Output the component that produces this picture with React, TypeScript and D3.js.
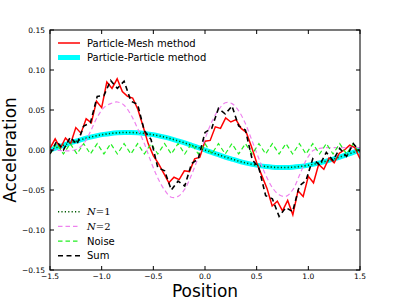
import React from 'react';
import * as d3 from 'd3';

// Particle-Mesh samples (step 0.05)
const pmX = [
  -1.5, -1.45, -1.4, -1.35, -1.3, -1.25, -1.2, -1.15, -1.1, -1.05,
  -1.0, -0.95, -0.9, -0.85, -0.8, -0.75, -0.7, -0.65, -0.6, -0.55,
  -0.5, -0.45, -0.4, -0.35, -0.3, -0.25, -0.2, -0.15, -0.1, -0.05,
  0.0, 0.05, 0.1, 0.15, 0.2, 0.25, 0.3, 0.35, 0.4, 0.45,
  0.5, 0.55, 0.6, 0.65, 0.7, 0.75, 0.8, 0.85, 0.9, 0.95,
  1.0, 1.05, 1.1, 1.15, 1.2, 1.25, 1.3, 1.35, 1.4, 1.45, 1.5,
];
const pmAccel = [
  0.002, 0.014, 0.002, 0.015, 0.008, 0.028, 0.021, 0.039, 0.034, 0.061,
  0.053, 0.085, 0.077, 0.089, 0.073, 0.067, 0.065, 0.051, 0.030, 0.008,
  -0.007, -0.017, -0.029, -0.041, -0.034, -0.037, -0.026, -0.027, -0.011, -0.009,
  0.011, 0.012, 0.029, 0.027, 0.040, 0.035, 0.038, 0.027, 0.022, 0.004,
  -0.016, -0.032, -0.048, -0.070, -0.064, -0.076, -0.063, -0.081, -0.051, -0.058,
  -0.033, -0.041, -0.018, -0.024, -0.010, -0.016, -0.004, 0.000, 0.006, 0.003, -0.011,
];

// mode grid (46 cells)
const gridX = [
  -1.5, -1.435, -1.37, -1.304, -1.239, -1.174, -1.109, -1.043, -0.978, -0.913,
  -0.848, -0.783, -0.717, -0.652, -0.587, -0.522, -0.457, -0.391, -0.326, -0.261,
  -0.196, -0.13, -0.065, 0.0, 0.065, 0.13, 0.196, 0.261, 0.326, 0.391,
  0.457, 0.522, 0.587, 0.652, 0.717, 0.783, 0.848, 0.913, 0.978, 1.043,
  1.109, 1.174, 1.239, 1.304, 1.37, 1.435, 1.5,
];
const ppAccel = [
  0, 0.003, 0.0059, 0.0088, 0.0114, 0.0139, 0.0161, 0.018, 0.0195, 0.0207,
  0.0215, 0.0219, 0.0219, 0.0215, 0.0207, 0.0195, 0.018, 0.0161, 0.0139, 0.0114,
  0.0088, 0.0059, 0.003, 0, -0.003, -0.0059, -0.0088, -0.0114, -0.0139, -0.0161,
  -0.018, -0.0195, -0.0207, -0.0215, -0.0219, -0.0219, -0.0215, -0.0207, -0.0195, -0.018,
  -0.0161, -0.0139, -0.0114, -0.0088, -0.0059, -0.003, 0,
];
const n1Accel = [
  0, 0.003, 0.0059, 0.0088, 0.0114, 0.0139, 0.0161, 0.018, 0.0195, 0.0207,
  0.0215, 0.0219, 0.0219, 0.0215, 0.0207, 0.0195, 0.018, 0.0161, 0.0139, 0.0114,
  0.0088, 0.0059, 0.003, 0, -0.003, -0.0059, -0.0088, -0.0114, -0.0139, -0.0161,
  -0.018, -0.0195, -0.0207, -0.0215, -0.0219, -0.0219, -0.0215, -0.0207, -0.0195, -0.018,
  -0.0161, -0.0139, -0.0114, -0.0088, -0.0059, -0.003, 0,
];
const n2Accel = [
  0.0, 0.0, -0.001, -0.001, 0.001, 0.008, 0.023, 0.041, 0.053, 0.058,
  0.06, 0.056, 0.044, 0.027, 0.008, -0.015, -0.035, -0.05, -0.059, -0.058,
  -0.049, -0.031, -0.009, 0.014, 0.035, 0.05, 0.059, 0.058, 0.049, 0.033,
  0.011, -0.011, -0.031, -0.047, -0.056, -0.058, -0.05, -0.032, -0.013, -0.001,
  0.002, 0.003, 0.003, 0.003, 0.003, 0.003, 0.003,
];
const noiseAccel = [
  -0.005, 0.008, -0.005, 0.008, -0.005, 0.008, -0.005, 0.008, -0.005, 0.008,
  -0.005, 0.008, -0.005, 0.008, -0.005, 0.008, -0.005, 0.008, -0.005, 0.008,
  -0.005, 0.008, -0.005, 0.008, -0.005, 0.008, -0.005, 0.008, -0.005, 0.008,
  -0.005, 0.008, -0.005, 0.008, -0.005, 0.008, -0.005, 0.008, -0.005, 0.008,
  -0.005, 0.008, -0.005, 0.008, -0.005, 0.008, -0.005,
];
const sumAccel = [
  -0.005, 0.011, 0.0, 0.016, 0.007, 0.03, 0.034, 0.067, 0.068, 0.087,
  0.077, 0.086, 0.061, 0.057, 0.024, 0.013, -0.022, -0.026, -0.05, -0.039,
  -0.045, -0.017, -0.011, 0.022, 0.027, 0.052, 0.045, 0.055, 0.03, 0.025,
  -0.012, -0.023, -0.057, -0.061, -0.083, -0.072, -0.077, -0.045, -0.038, -0.011,
  -0.019, -0.003, -0.013, 0.002, -0.008, 0.008, -0.002,
];

const xTicks = [-1.5, -1.0, -0.5, 0.0, 0.5, 1.0, 1.5];
const yTicks = [-0.15, -0.1, -0.05, 0.0, 0.05, 0.1, 0.15];

const topLegend = ['Particle-Mesh method', 'Particle-Particle method'];
const bottomLegend = ['N=1', 'N=2', 'Noise', 'Sum'];

const W = 400;
const H = 300;
const left = 50;
const right = 360;
const top = 30;
const bottom = 270;

const font = '"DejaVu Sans", sans-serif';

export default function App() {
  const x = d3.scaleLinear().domain([-1.5, 1.5]).range([left, right]);
  const y = d3.scaleLinear().domain([-0.15, 0.15]).range([bottom, top]);

  const line = (xs: number[], ys: number[], curve = d3.curveLinear) =>
    d3
      .line<number>()
      .x((d, i) => x(xs[i]))
      .y((d) => y(d))
      .curve(curve)(ys) as string;

  const fmtY = d3.format('.2f');
  const fmtX = d3.format('.1f');

  // styles for the bottom legend, same order as bottomLegend
  const compStyles = [
    { stroke: '#005a00', width: 1.6, dash: '1.2 2.2' },
    { stroke: '#ee82ee', width: 1.2, dash: '4.5 3' },
    { stroke: '#22ee22', width: 1.2, dash: '4.5 3' },
    { stroke: '#000000', width: 1.6, dash: '5 3.5' },
  ];

  return (
    <svg
      width={W}
      height={H}
      style={{ position: 'absolute', left: 0, top: 0, background: 'white' }}
    >
      <defs>
        <clipPath id="plot">
          <rect x={left} y={top} width={right - left} height={bottom - top} />
        </clipPath>
      </defs>

      <g clipPath="url(#plot)" fill="none">
        <path d={line(gridX, ppAccel, d3.curveCatmullRom)} stroke="#00ffff" strokeWidth={5} />
        <path d={line(pmX, pmAccel)} stroke="#ff0000" strokeWidth={1.5} strokeLinejoin="miter" />
        <path
          d={line(gridX, n1Accel, d3.curveCatmullRom)}
          stroke={compStyles[0].stroke}
          strokeWidth={compStyles[0].width}
          strokeDasharray={compStyles[0].dash}
        />
        <path
          d={line(gridX, n2Accel, d3.curveCatmullRom)}
          stroke={compStyles[1].stroke}
          strokeWidth={compStyles[1].width}
          strokeDasharray={compStyles[1].dash}
        />
        <path
          d={line(gridX, noiseAccel)}
          stroke={compStyles[2].stroke}
          strokeWidth={compStyles[2].width}
          strokeDasharray={compStyles[2].dash}
        />
        <path
          d={line(gridX, sumAccel)}
          stroke={compStyles[3].stroke}
          strokeWidth={compStyles[3].width}
          strokeDasharray={compStyles[3].dash}
        />
      </g>

      {/* frame */}
      <rect x={left} y={top} width={right - left} height={bottom - top} fill="none" stroke="#222" strokeWidth={1.2} />

      {/* ticks, inward on all four sides */}
      {xTicks.map((t) => (
        <g key={'x' + t}>
          <line x1={x(t)} x2={x(t)} y1={bottom} y2={bottom - 4} stroke="#000" />
          <line x1={x(t)} x2={x(t)} y1={top} y2={top + 4} stroke="#000" />
          <text x={x(t)} y={279} textAnchor="middle" fontFamily={font} fontSize={7.5}>
            {fmtX(t)}
          </text>
        </g>
      ))}
      {yTicks.map((t) => (
        <g key={'y' + t}>
          <line x1={left} x2={left + 4} y1={y(t)} y2={y(t)} stroke="#000" />
          <line x1={right} x2={right - 4} y1={y(t)} y2={y(t)} stroke="#000" />
          <text x={45} y={y(t)} dy="0.35em" textAnchor="end" fontFamily={font} fontSize={7.5}>
            {fmtY(t)}
          </text>
        </g>
      ))}

      {/* axis labels */}
      <text x={205} y={297} textAnchor="middle" fontFamily={font} fontSize={17}>
        Position
      </text>
      <text
        transform={`translate(15.5,${(top + bottom) / 2}) rotate(-90)`}
        textAnchor="middle"
        fontFamily={font}
        fontSize={17}
      >
        Acceleration
      </text>

      {/* top legend */}
      <g fontFamily={font} fontSize={10}>
        <line x1={58} x2={80} y1={43} y2={43} stroke="#ff0000" strokeWidth={1.5} />
        <text x={87} y={43} dy="0.35em">{topLegend[0]}</text>
        <line x1={58} x2={80} y1={57.5} y2={57.5} stroke="#00ffff" strokeWidth={5} />
        <text x={87} y={57.5} dy="0.35em">{topLegend[1]}</text>
      </g>

      {/* bottom legend */}
      <g fontSize={10}>
        {bottomLegend.map((lab, i) => {
          const yy = 211.7 + i * 14.7;
          const s = compStyles[i];
          const isMath = lab.startsWith('N=');
          return (
            <g key={lab}>
              <line
                x1={58}
                x2={80}
                y1={yy}
                y2={yy}
                stroke={s.stroke}
                strokeWidth={s.width}
                strokeDasharray={s.dash}
              />
              {isMath ? (
                <text x={87} y={yy} dy="0.35em" fontFamily='"DejaVu Serif", serif'>
                  <tspan fontStyle="italic">N</tspan>
                  <tspan>{lab.slice(1)}</tspan>
                </text>
              ) : (
                <text x={87} y={yy} dy="0.35em" fontFamily={font}>
                  {lab}
                </text>
              )}
            </g>
          );
        })}
      </g>
    </svg>
  );
}
